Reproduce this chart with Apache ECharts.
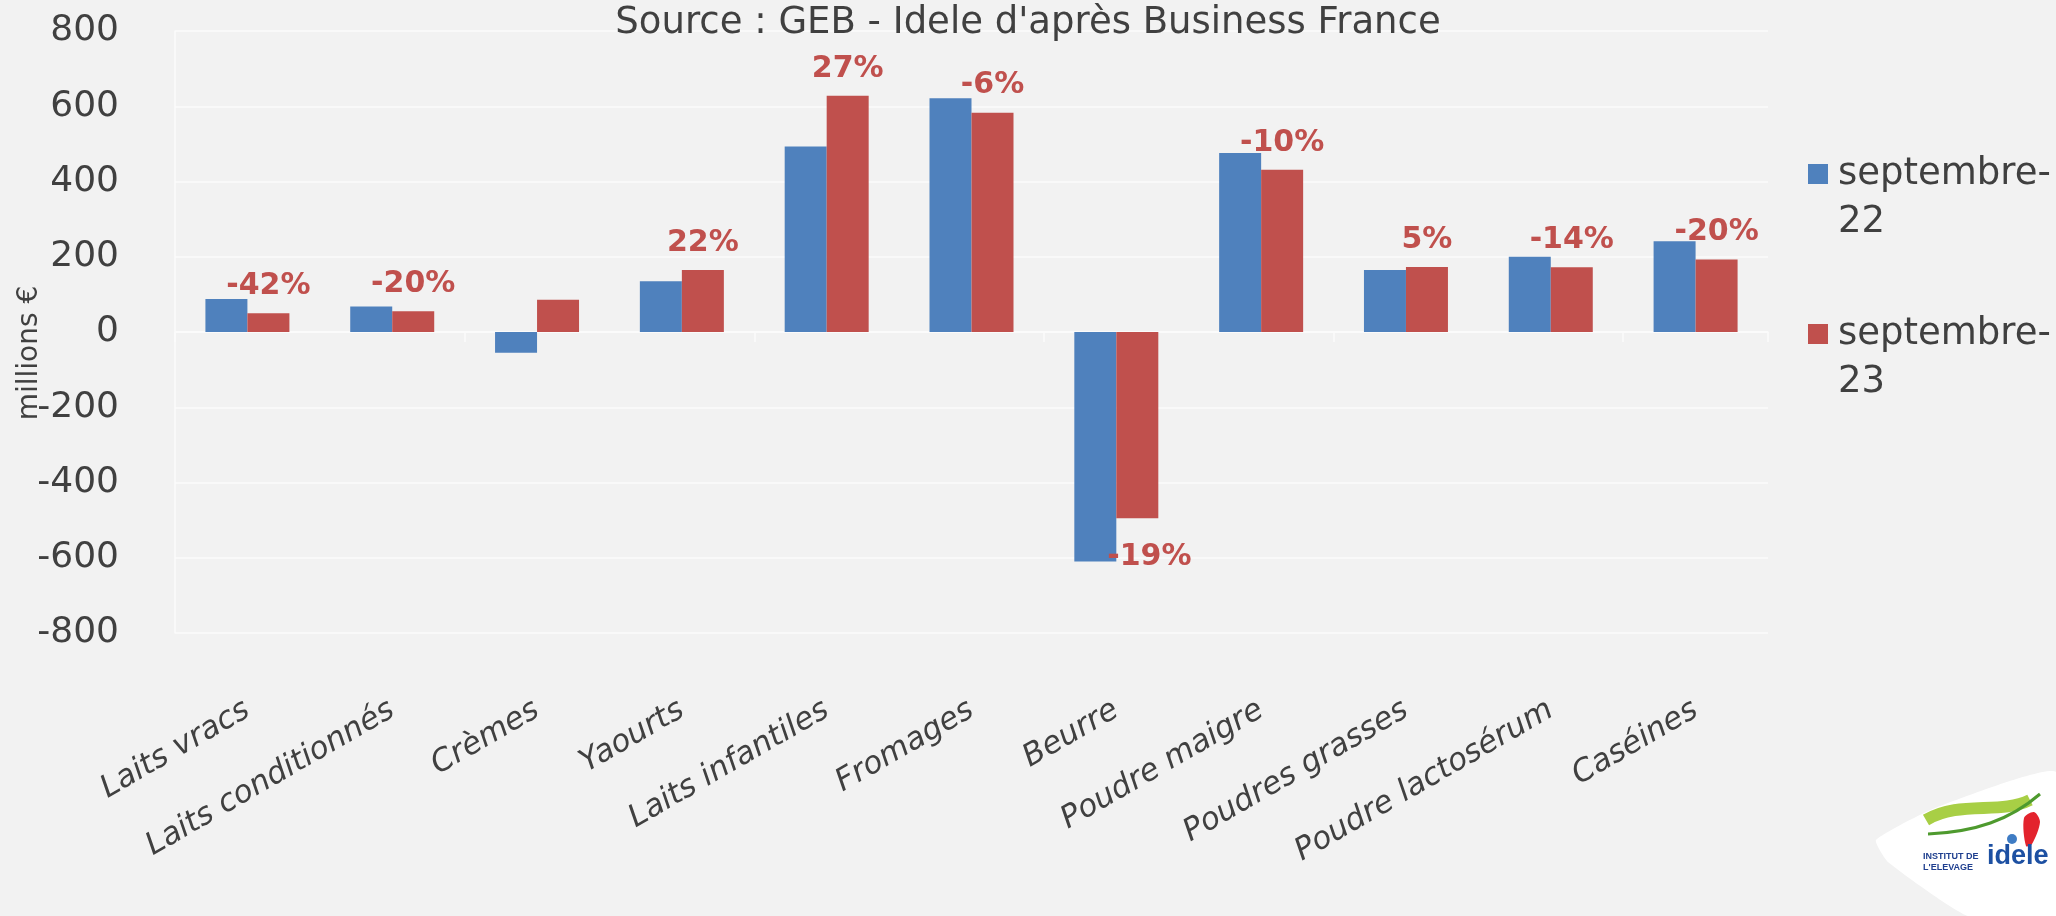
<!DOCTYPE html>
<html>
<head>
<meta charset="utf-8">
<script src="https://cdn.jsdelivr.net/npm/echarts@6.0.0/dist/echarts.min.js"></script>
<style>
    html, body { margin: 0; padding: 0; background: #f2f2f2; }
    #chart { width: 2056px; height: 916px; }
</style>
</head>
<body>
<div id="chart"></div>
<script>
// catégories de produits laitiers
const categories = [
    "Laits vracs", "Laits conditionnés", "Crèmes", "Yaourts", "Laits infantiles",
    "Fromages", "Beurre", "Poudre maigre", "Poudres grasses", "Poudre lactosérum", "Caséines"
];
// solde en millions €
const sept22 = [88, 68, -55, 135, 493, 621, -610, 476, 165, 200, 241];
const sept23 = [50, 55, 86, 165, 628, 583, -495, 431, 173, 172, 193];
// évolution affichée au-dessus des barres de septembre-23
const variation = ["-42%", "-20%", "", "22%", "27%", "-6%", "-19%", "-10%", "5%", "-14%", "-20%"];
const seriesNames = ["septembre-22", "septembre-23"];
const yTicks = { min: -800, max: 800, interval: 200 };

const font = "DejaVu Sans";
const textColor = "#404040";
const lineColor = "#fbfbfb";

const chart = echarts.init(document.getElementById("chart"));

chart.setOption({
    animation: false,
    backgroundColor: "#f2f2f2",
    textStyle: { fontFamily: font },
    title: {
        text: "Source : GEB - Idele d'après Business France",
        left: "center",
        top: 0,
        textStyle: { fontFamily: font, fontSize: 37, fontWeight: "normal", color: textColor }
    },
    legend: {
        data: seriesNames,
        orient: "vertical",
        left: 1803,
        top: 97,
        itemWidth: 20,
        itemHeight: 20,
        itemGap: 16,
        icon: "rect",
        // ligne vide en tête pour aligner le carré sur la première ligne
        formatter: function (name) {
            return "\n" + name.replace("-", "-\n");
        },
        textStyle: { fontFamily: font, fontSize: 37, lineHeight: 48, color: textColor, padding: [0, 0, 0, 5] }
    },
    grid: { left: 175, right: 288, top: 31, bottom: 283, containLabel: false, outerBoundsMode: "none" },
    xAxis: [
        {
            // ligne du zéro avec graduations
            type: "category",
            data: categories,
            axisLine: { onZero: true, lineStyle: { color: lineColor, width: 1.5 } },
            axisTick: { show: true, length: 10, lineStyle: { color: lineColor, width: 1.5 } },
            axisLabel: { show: false }
        },
        {
            // étiquettes en bas du graphique
            type: "category",
            data: categories,
            position: "bottom",
            axisLine: { show: false, onZero: false },
            axisTick: { show: false },
            axisLabel: {
                interval: 0,
                rotate: 30,
                margin: 75,
                fontFamily: font,
                fontStyle: "italic",
                fontSize: 31,
                color: textColor
            }
        }
    ],
    yAxis: {
        type: "value",
        min: yTicks.min,
        max: yTicks.max,
        interval: yTicks.interval,
        name: "millions €",
        nameLocation: "middle",
        nameGap: 131,
        nameMoveOverlap: false,
        nameTextStyle: { fontFamily: font, fontSize: 28, color: textColor, padding: [0, 42, 0, 0] },
        axisLine: { show: true, lineStyle: { color: lineColor, width: 1.5 } },
        axisTick: { show: false },
        axisLabel: { fontFamily: font, fontSize: 36, color: textColor, margin: 56 },
        splitLine: { lineStyle: { color: lineColor, width: 1.5 } }
    },
    series: [
        {
            name: seriesNames[0],
            type: "bar",
            xAxisIndex: 0,
            data: sept22,
            barGap: "0%",
            barCategoryGap: "42%",
            itemStyle: { color: "#4f81bd" }
        },
        {
            name: seriesNames[1],
            type: "bar",
            xAxisIndex: 0,
            data: sept23.map(function (v) {
                // barre négative : étiquette sous la barre
                return v < 0 ? { value: v, label: { position: "bottom", offset: [12, 12] } } : v;
            }),
            barGap: "0%",
            barCategoryGap: "42%",
            itemStyle: { color: "#c0504d" },
            label: {
                show: true,
                position: "top",
                distance: 12,
                fontFamily: font,
                fontSize: 30,
                fontWeight: "bold",
                color: "#c0504d",
                formatter: function (p) {
                    return variation[p.dataIndex];
                }
            }
        }
    ],
    graphic: [
        // logo idele en bas à droite
        {
            type: "polygon",
            shape: {
                points: [[1876, 840], [1935, 808], [2056, 772], [2056, 916], [1968, 916], [1888, 862]],
                smooth: 0.15
            },
            style: { fill: "#ffffff" },
            z: 10
        },
        {
            type: "bezierCurve",
            shape: { x1: 1926, y1: 820, x2: 2030, y2: 800, cpx1: 1960, cpy1: 800, cpx2: 2000, cpy2: 815 },
            style: { stroke: "#a8cf45", lineWidth: 12, fill: null },
            z: 11
        },
        {
            type: "bezierCurve",
            shape: { x1: 1928, y1: 834, x2: 2040, y2: 794, cpx1: 1975, cpy1: 832, cpx2: 2010, cpy2: 820 },
            style: { stroke: "#4e9a2e", lineWidth: 3, fill: null },
            z: 11
        },
        {
            type: "polygon",
            shape: { points: [[2024, 818], [2034, 812], [2040, 822], [2032, 844], [2026, 846]], smooth: 0.3 },
            style: { fill: "#e3232d" },
            z: 11
        },
        {
            type: "circle",
            shape: { cx: 2012, cy: 839, r: 5 },
            style: { fill: "#3f7cc4" },
            z: 11
        },
        {
            type: "text",
            left: 1923,
            top: 851,
            style: {
                text: "INSTITUT DE\nL'ELEVAGE",
                font: "bold 9px 'Liberation Sans Narrow', 'Liberation Sans'",
                fill: "#1f3f8f",
                lineHeight: 11
            },
            z: 11
        },
        {
            type: "text",
            left: 1987,
            top: 843,
            style: {
                text: "idele",
                font: "bold 27px 'Liberation Sans Narrow', 'Liberation Sans'",
                fill: "#1d50a2"
            },
            z: 11
        }
    ]
});
</script>
</body>
</html>
